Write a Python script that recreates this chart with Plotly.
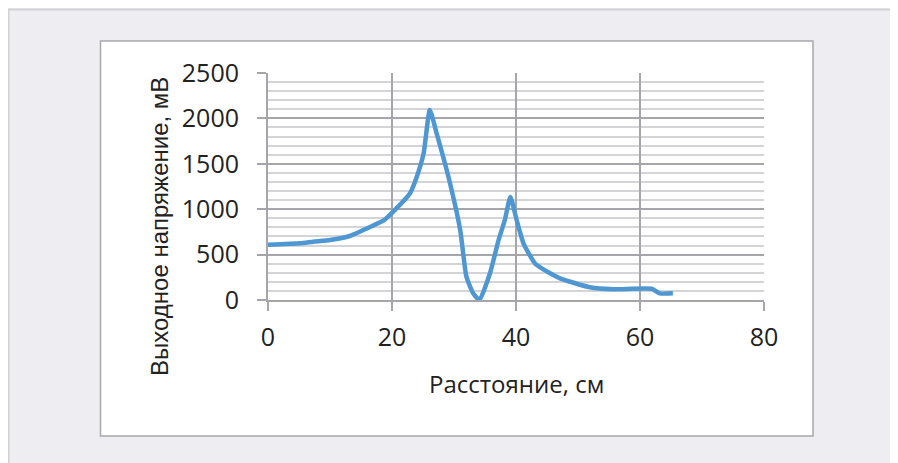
import plotly.graph_objects as go

distance_cm = [0, 5.2, 7.3, 10, 13.2, 15.4, 18.6, 20.2, 22.9, 24.0, 25.1, 26.1, 27.2, 29.1,
               31.0, 32.0, 33.1, 34.1, 35.8, 37.2, 38.2, 39.1, 40.1, 41.2, 43.1, 45.5, 47.1,
               51.9, 55.7, 61.9, 63.2, 65.3]
voltage_mv = [608, 624, 642, 661, 705, 771, 873, 973, 1175, 1358, 1615, 2093, 1836, 1358,
              771, 257, 73, 0, 294, 661, 881, 1135, 881, 624, 400, 294, 239,
              140, 118, 124, 73, 73]

x_ticks = [0, 20, 40, 60, 80]
y_ticks = [0, 500, 1000, 1500, 2000, 2500]
x_title = "Расстояние, см"
y_title = "Выходное напряжение, мВ"

# page has an 8px body margin; figure coords = page coords - 8
OFF = 8
W, H = 898 - OFF, 463 - OFF
L, R, T, B = 268 - OFF, 764 - OFF, 73 - OFF, 300 - OFF


def px(xp):
    return (xp - OFF - L) / (R - L)


def py(yp):
    return (B - (yp - OFF)) / (B - T)


fig = go.Figure()
fig.add_trace(go.Scatter(
    x=distance_cm, y=voltage_mv, mode="lines",
    line=dict(color="#4E97D2", width=4.5, shape="spline", smoothing=0.5),
    hoverinfo="skip", showlegend=False,
))

fig.update_layout(
    width=W, height=H,
    margin=dict(l=L, r=W - R, t=T, b=H - B),
    paper_bgcolor="#EEEDF2",
    plot_bgcolor="white",
    font=dict(family="Open Sans", size=25, color="#222222"),
    xaxis=dict(
        range=[0, 80], tickvals=x_ticks, ticktext=[str(v) for v in x_ticks],
        showgrid=True, gridcolor="#A6A6AA", gridwidth=1.5,
        showline=True, linecolor="#A6A6AA", linewidth=2,
        ticks="outside", ticklen=9, tickcolor="#A6A6AA", tickwidth=1.5,
        zeroline=False, fixedrange=True, ticklabelstandoff=5,
    ),
    yaxis=dict(
        range=[0, 2500], tickvals=y_ticks, ticktext=[str(v) for v in y_ticks],
        showgrid=True, gridcolor="#A6A6AA", gridwidth=1.5,
        showline=True, linecolor="#A6A6AA", linewidth=2,
        ticks="outside", ticklen=9, tickcolor="#A6A6AA", tickwidth=1.5,
        zeroline=False, fixedrange=True, ticklabelstandoff=13,
        minor=dict(dtick=100, showgrid=True, gridcolor="#D4D4D6", gridwidth=1.5, ticks=""),
    ),
    shapes=[
        # outer frame lines (top and left)
        dict(type="line", xref="paper", yref="paper",
             x0=px(8), x1=px(910), y0=py(9.5), y1=py(9.5),
             line=dict(color="#D2D2D4", width=2), layer="below"),
        dict(type="line", xref="paper", yref="paper",
             x0=px(8.5), x1=px(8.5), y0=py(9), y1=py(470),
             line=dict(color="#D2D2D4", width=2), layer="below"),
        # white chart box
        dict(type="rect", xref="paper", yref="paper",
             x0=px(100.5), x1=px(813), y0=py(436), y1=py(41),
             line=dict(color="#A8A8AC", width=1.5), fillcolor="white", layer="below"),
    ],
    annotations=[
        dict(text=x_title, xref="paper", yref="paper",
             x=px(516), y=py(383),
             showarrow=False, xanchor="center", yanchor="middle",
             font=dict(family="Open Sans", size=24, color="#222222")),
        dict(text=y_title, xref="paper", yref="paper",
             x=px(159), y=py(227),
             showarrow=False, xanchor="center", yanchor="middle", textangle=-90,
             font=dict(family="Liberation Sans", size=24, color="#222222")),
    ],
)

fig.write_html("out.html")
